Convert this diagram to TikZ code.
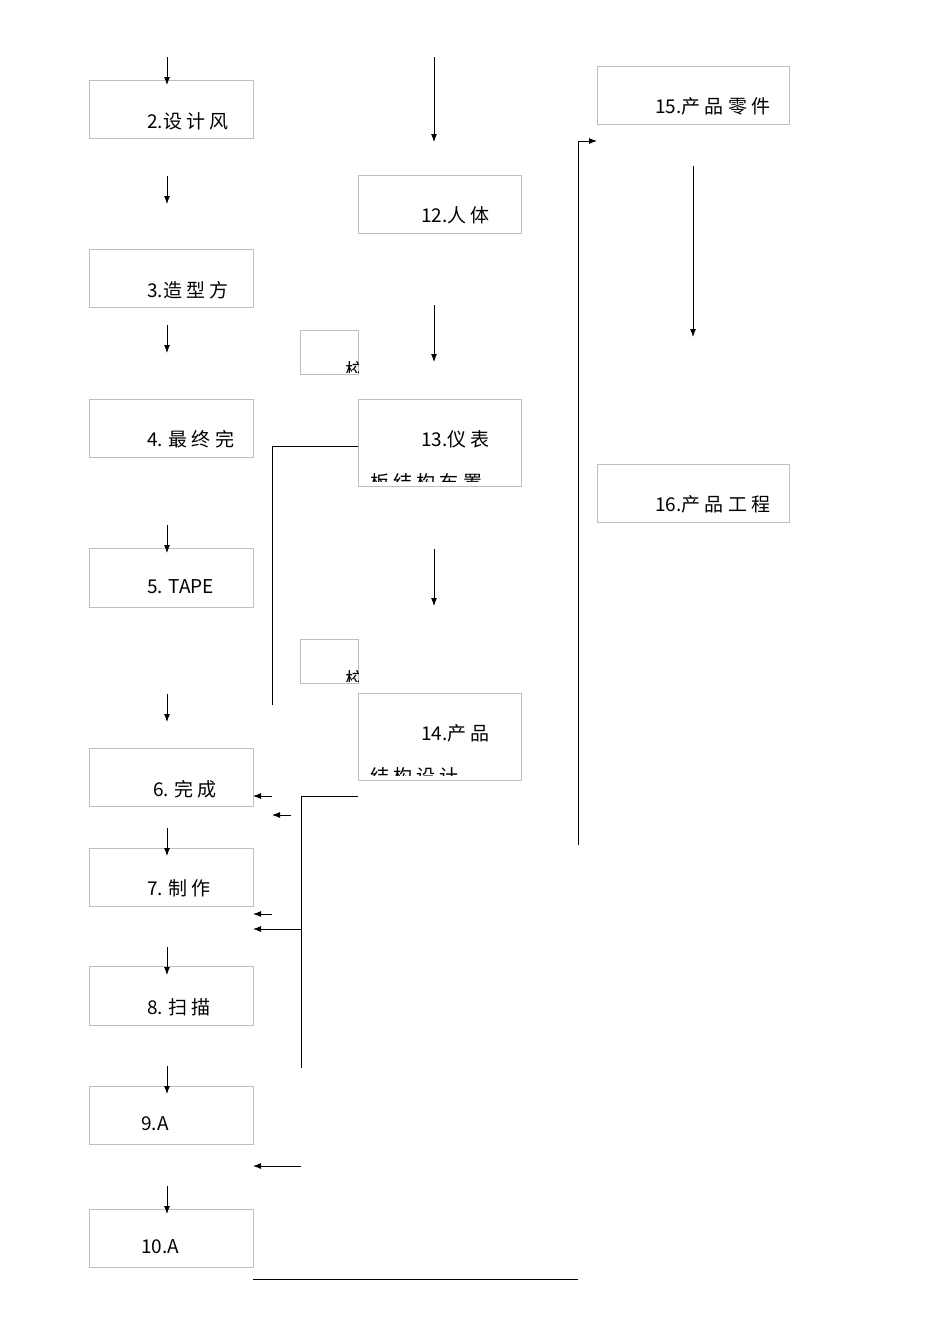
\documentclass[tikz,border=0pt]{standalone}
\usepackage{fontspec}
\setmainfont{Noto Sans CJK SC}
\usetikzlibrary{arrows.meta}
\begin{document}
\begin{tikzpicture}[x=1pt,y=-1pt,
  bx/.style={draw=black!25,line width=0.8pt},
  tx/.style={anchor=base west,inner sep=0pt,font=\fontsize{19}{19}\selectfont},
  ar/.style={-{Latex[length=8pt,width=6pt]},line width=0.9pt},
  ln/.style={line width=0.9pt}]
\useasboundingbox (0,0) rectangle (950,1344);
% left boxes
\foreach \n/\ya/\yb in {b2/80/138,b3/249/307,b4/399/457,b5/548/607,b6/748/806,b7/848/906,b8/966/1025,b9/1086/1144,b10/1209/1267}
  {\draw[bx] (89,\ya) rectangle (253,\yb); \coordinate (\n) at (167,\ya);}
\draw[bx] (358,175) rectangle (521,233);
\draw[bx] (358,399) rectangle (521,486);
\draw[bx] (358,693) rectangle (521,780);
\draw[bx] (300,330) rectangle (358,374);
\draw[bx] (300,639) rectangle (358,683);
\draw[bx] (597,66) rectangle (789,124);
\draw[bx] (597,464) rectangle (789,522);
\node[tx] (t2) at (147,128) {2.设 计 风};
\node[tx] (t3) at (147,297) {3.造 型 方};
\node[tx] (t4) at (147,446) {4. 最 终 完};
\node[tx] (t5) at (147,593) {5. TAPE};
\node[tx] (t6) at (153,796) {6. 完 成};
\node[tx] (t7) at (147,895) {7. 制 作};
\node[tx] (t8) at (147,1014) {8.  扫 描};
\node[tx] (t9) at (141,1130) {9.A};
\node[tx] (t10) at (141,1253) {10.A};
\node[tx] (t12) at (421,222) {12.人 体};
\node[tx] (t13) at (421,446) {13.仪 表};
\node[tx] (t14) at (421,740) {14.产 品};
\node[tx] (t15) at (655,113) {15.产 品 零 件};
\node[tx] (t16) at (655,511) {16.产 品 工 程};
\begin{scope}\clip (358,470) rectangle (521,481);
\node[tx] (t13b) at (370,489) {板 结 构 布 置};\end{scope}
\begin{scope}\clip (358,764) rectangle (521,775);
\node[tx] (t14b) at (370,783) {结 构 设 计};\end{scope}
\begin{scope}\clip (300,355) rectangle (358,372);
\node[tx] (s1) at (345,377) {校};\end{scope}
\begin{scope}\clip (300,664) rectangle (358,681);
\node[tx] (s2) at (345,686) {校};\end{scope}
% down arrows
\foreach \a/\b in {57/85,176/204,325/353,525/553,694/722,828/856,947/975,1066/1094,1186/1214}
  \draw[ar] (167,\a) -- (167,\b);
\foreach \a/\b in {57/142,305/362,549/606} \draw[ar] (434,\a) -- (434,\b);
\draw[ar] (693,166) -- (693,337);
% connectors
\coordinate (p1) at (272,705); \coordinate (p2) at (358,446);
\draw[ln] (p1) |- (p2);
\coordinate (q1) at (578,845); \coordinate (q2) at (597,141);
\draw[ar] (q1) |- (q2);
\coordinate (r1) at (301,1068); \coordinate (r2) at (358,796);
\draw[ln] (r1) |- (r2);
\draw[ar] (272,796) -- (253,796);
\draw[ar] (291,815) -- (272,815);
\draw[ar] (272,914) -- (253,914);
\draw[ar] (301,929) -- (253,929);
\draw[ar] (301,1166) -- (253,1166);
\draw[ln] (253,1279) -- (578,1279);
\end{tikzpicture}
\end{document}
